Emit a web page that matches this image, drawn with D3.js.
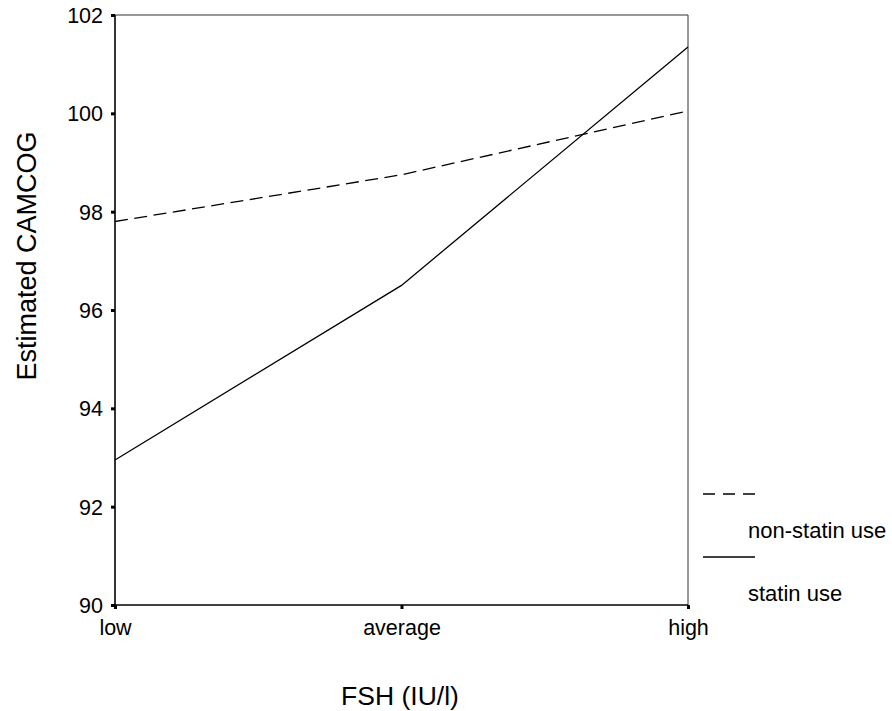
<!DOCTYPE html>
<html>
<head>
<meta charset="utf-8">
<script src="https://cdn.jsdelivr.net/npm/d3@7"></script>
<style>
  body { margin: 0; background: #fff; }
  text { font-family: "Liberation Sans", Arial, sans-serif; fill: #000; }
</style>
</head>
<body>
<div id="chart"></div>
<script>
// data
var categories = ["low", "average", "high"];
var nonStatin = [97.8, 98.75, 100.05];
var statin = [92.95, 96.5, 101.35];
var yTicks = [90, 92, 94, 96, 98, 100, 102];
var legendLabels = ["non-statin use", "statin use"];

var width = 892, height = 711;
var margin = { top: 15, right: 204, bottom: 106, left: 115 };
var plotW = width - margin.left - margin.right;
var plotH = height - margin.top - margin.bottom;

var svg = d3.select("#chart").append("svg")
    .attr("width", width)
    .attr("height", height);

var g = svg.append("g")
    .attr("transform", "translate(" + margin.left + "," + margin.top + ")");

var x = d3.scalePoint().domain(categories).range([0, plotW]);
var y = d3.scaleLinear().domain([90, 102]).range([plotH, 0]);

// frame (top & right thin)
g.append("line").attr("x1", 0).attr("x2", plotW).attr("y1", 0).attr("y2", 0)
    .attr("stroke", "#333").attr("stroke-width", 1);
g.append("line").attr("x1", plotW).attr("x2", plotW).attr("y1", 0).attr("y2", plotH)
    .attr("stroke", "#333").attr("stroke-width", 1);

// y axis
var yAxis = g.append("g")
    .call(d3.axisLeft(y).tickValues(yTicks).tickSize(4).tickPadding(8).tickFormat(d3.format("d")));
yAxis.select(".domain").attr("stroke-width", 1.6).attr("d", "M0," + plotH + "V0");
yAxis.selectAll(".tick line").attr("stroke-width", 3);
yAxis.selectAll(".tick text").style("font-size", "21.5px").attr("dy", "0.35em");

// x axis
var xAxis = g.append("g")
    .attr("transform", "translate(0," + plotH + ")")
    .call(d3.axisBottom(x).tickSize(4).tickPadding(11));
xAxis.select(".domain").attr("stroke-width", 1.6).attr("d", "M0,0H" + plotW);
xAxis.selectAll(".tick line").attr("stroke-width", 3);
xAxis.selectAll(".tick text").style("font-size", "21.5px");

// lines
var line = d3.line()
    .x(function (d, i) { return x(categories[i]); })
    .y(function (d) { return y(d); });

g.append("path").datum(nonStatin)
    .attr("d", line)
    .attr("fill", "none").attr("stroke", "#000").attr("stroke-width", 1.3)
    .attr("stroke-dasharray", "13,6.5");

g.append("path").datum(statin)
    .attr("d", line)
    .attr("fill", "none").attr("stroke", "#000").attr("stroke-width", 1.3);

// axis titles
svg.append("text")
    .attr("transform", "translate(36,256) rotate(-90)")
    .attr("text-anchor", "middle")
    .style("font-size", "27px")
    .text("Estimated CAMCOG");

svg.append("text")
    .attr("x", 400)
    .attr("y", 705)
    .attr("text-anchor", "middle")
    .style("font-size", "26.5px")
    .text("FSH (IU/l)");

// legend
var legend = svg.append("g").attr("transform", "translate(703,494)");
legendLabels.forEach(function (label, i) {
    var yy = i * 63;
    legend.append("line")
        .attr("x1", 0).attr("x2", 52).attr("y1", yy).attr("y2", yy)
        .attr("stroke", "#000").attr("stroke-width", 1.3)
        .attr("stroke-dasharray", i === 0 ? "12,8" : null);
    legend.append("text")
        .attr("x", 45).attr("y", yy + 44)
        .style("font-size", "22px")
        .text(label);
});
</script>
</body>
</html>
